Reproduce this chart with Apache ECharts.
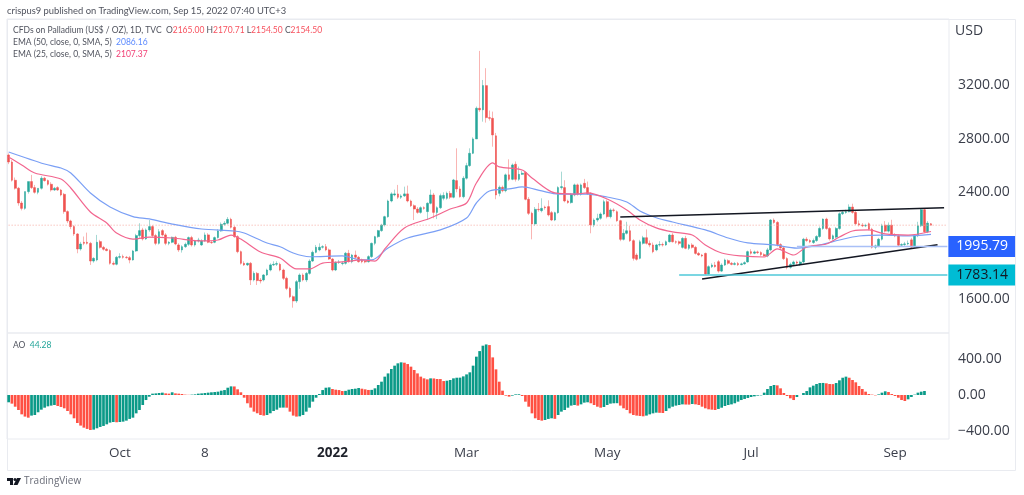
<!DOCTYPE html>
<html>
<head>
<meta charset="utf-8">
<script src="https://cdn.jsdelivr.net/npm/echarts@6/dist/echarts.min.js"></script>
<style>
html, body { margin: 0; padding: 0; background: #fff; }
#chart { width: 1024px; height: 495px; }
</style>
</head>
<body>
<div id="chart"></div>
<script>
// tick labels of the time axis and the bar they sit under
const tickLabels = ['Oct', '8', '2022', 'Mar', 'May', 'Jul', 'Sep'];
const tickBars = [34, 60, 99, 140, 183, 227, 271];
const barSlots = 288; // the last few slots stay empty, as on the original
const priceTicks = [1600, 2400, 2800, 3200];
const aoTicks = [-400, 0, 400];

// daily candles
const opens = [
  2678,2626,2490,2430,2320,2280,2405,2480,2435,2400,
  2430,2505,2487,2460,2417,2435,2417,2385,2256,2186,
  2144,2089,1977,2027,2027,2019,1887,1895,2032,1989,
  1975,1965,1870,1863,1915,1920,1915,1912,1895,1962,
  2077,2119,2052,2119,2144,2077,2019,2114,2082,2019,
  2027,2064,2007,1970,1994,2012,2062,2007,2037,2007,
  2037,2082,2027,2027,2062,2111,2161,2169,2198,2139,
  2069,1957,1870,1858,1870,1746,1795,1745,1746,1783,
  1820,1858,1863,1863,1820,1758,1683,1621,1589,1733,
  1783,1746,1795,1887,1952,1970,1990,1994,1970,1902,
  1820,1877,1868,1870,1945,1882,1932,1915,1895,1885,
  1882,1920,2019,2069,2114,2156,2218,2335,2380,2388,
  2363,2373,2388,2335,2300,2275,2250,2285,2256,2318,
  2380,2250,2285,2355,2355,2392,2363,2487,2425,2367,
  2505,2599,2691,2798,3027,3015,3196,2957,2952,2821,
  2392,2437,2412,2530,2497,2609,2497,2534,2549,2348,
  2243,2164,2273,2263,2290,2293,2248,2193,2248,2435,
  2435,2335,2323,2380,2455,2385,2467,2435,2392,2156,
  2193,2206,2238,2330,2218,2268,2255,2188,2049,2094,
  2113,2039,1932,1907,2019,2061,2019,2007,1970,2007,
  2010,2007,2031,2081,2031,2031,1989,2056,1982,2007,
  1989,1944,1932,1944,1790,1845,1857,1882,1812,1857,
  1890,1870,1862,1868,1860,1866,1880,1957,1945,1955,
  1950,1935,1925,1970,2193,2175,2010,1985,1905,1840,
  1862,1880,1862,1880,2050,2040,2025,2040,2070,2130,
  2200,2130,2052,2065,2130,2240,2250,2255,2290,2250,
  2165,2155,2150,2165,2125,1990,2000,2050,2155,2110,
  2155,2085,2075,2005,2010,2015,2045,1990,2075,2150,
  2270,2105,2165
];
const closes = [
  2626,2490,2430,2320,2280,2405,2480,2435,2400,2430,
  2505,2487,2460,2417,2430,2417,2380,2256,2186,2144,
  2089,1977,2014,2019,2019,1887,1907,2027,1989,1975,
  1965,1870,1863,1915,1920,1915,1912,1895,1962,2077,
  2114,2052,2119,2144,2077,2019,2106,2082,2019,2027,
  2064,2014,1970,1994,2012,2062,2007,2037,2044,2037,
  2082,2027,2024,2062,2111,2161,2169,2198,2139,2069,
  1957,1870,1858,1870,1746,1795,1741,1738,1783,1820,
  1858,1863,1868,1820,1758,1683,1621,1589,1733,1783,
  1746,1795,1887,1952,1990,1990,1994,1970,1902,1820,
  1877,1880,1872,1945,1882,1932,1915,1882,1882,1880,
  1920,2019,2069,2114,2156,2218,2335,2388,2388,2363,
  2373,2388,2335,2300,2275,2250,2285,2280,2318,2380,
  2250,2285,2375,2377,2392,2363,2492,2425,2367,2505,
  2599,2691,2798,3027,3015,3196,2957,2952,2828,2380,
  2437,2412,2530,2497,2604,2497,2534,2542,2348,2243,
  2164,2273,2270,2280,2285,2231,2193,2248,2435,2442,
  2335,2323,2385,2455,2385,2455,2435,2387,2156,2193,
  2206,2238,2330,2218,2268,2265,2188,2049,2094,2113,
  2039,1907,1900,2031,2061,2019,2007,1957,2007,2010,
  2007,2031,2081,2031,2028,2019,2056,1982,2007,1989,
  1944,1932,1925,1790,1845,1857,1845,1812,1857,1895,
  1870,1862,1868,1860,1866,1875,1957,1945,1955,1950,
  1935,1925,1970,2193,2175,2010,1985,1905,1840,1862,
  1880,1872,1880,2050,2040,2030,2040,2070,2130,2200,
  2130,2052,2075,2130,2240,2250,2255,2290,2250,2165,
  2155,2150,2152,2125,1990,2000,2050,2150,2110,2155,
  2085,2075,2005,2010,2015,2020,1990,2075,2150,2270,
  2105,2170,2154.5
];
const lows = [
  2610,2480,2420,2300,2265,2270,2390,2425,2390,2385,
  2420,2480,2450,2405,2410,2410,2370,2240,2170,2125,
  2075,1945,1965,2005,2010,1858,1875,1885,1980,1965,
  1960,1860,1855,1855,1905,1905,1905,1870,1890,1955,
  2060,2040,2045,2105,2065,2005,2010,2070,2005,2005,
  2020,2005,1955,1950,1985,2000,1995,1995,2025,2000,
  2030,2020,2015,2020,2055,2105,2150,2160,2130,2060,
  1945,1860,1850,1850,1708,1735,1708,1720,1735,1775,
  1810,1850,1850,1810,1745,1670,1610,1539,1575,1680,
  1735,1730,1785,1880,1945,1960,1980,1960,1895,1810,
  1812,1865,1855,1860,1875,1870,1905,1875,1870,1870,
  1875,1910,2005,2060,2105,2145,2210,2325,2370,2350,
  2350,2365,2325,2290,2193,2240,2240,2270,2193,2310,
  2206,2200,2275,2340,2345,2350,2355,2400,2360,2355,
  2495,2590,2685,2878,3000,2927,2920,2935,2740,2348,
  2370,2400,2400,2485,2490,2480,2485,2530,2340,2230,
  2049,2150,2255,2250,2270,2220,2185,2185,2240,2420,
  2325,2315,2315,2370,2375,2375,2425,2380,2094,2140,
  2180,2195,2230,2205,2205,2250,2180,2035,2040,2085,
  2030,1890,1890,1900,2010,2010,1990,1945,1960,1995,
  1995,2000,2025,2025,2015,2005,1980,1975,1970,1980,
  1935,1925,1915,1785,1785,1835,1838,1800,1805,1850,
  1860,1855,1855,1850,1855,1860,1875,1935,1938,1940,
  1925,1920,1915,1960,2165,1995,1975,1895,1825,1830,
  1850,1855,1850,1870,2030,2020,2015,2030,2060,2120,
  2120,2040,2040,2055,2120,2230,2240,2250,2240,2155,
  2145,2140,2140,2115,1980,1975,1990,2040,2100,2100,
  2075,2065,1995,1995,2000,2005,1980,1985,2065,2140,
  2095,2095,2154.5
];
const highs = [
  2690,2640,2510,2440,2335,2300,2420,2530,2455,2415,
  2520,2515,2495,2475,2440,2445,2425,2395,2265,2195,
  2155,2095,2030,2070,2099,2030,1915,2082,2045,2000,
  1985,1975,1885,1925,1945,1935,1925,1925,1970,2090,
  2169,2135,2130,2193,2155,2090,2125,2125,2095,2035,
  2070,2075,2020,2005,2025,2070,2075,2045,2060,2050,
  2100,2095,2040,2070,2125,2175,2185,2215,2210,2150,
  2080,1965,1885,1875,1880,1810,1805,1760,1790,1830,
  1870,1885,1885,1875,1830,1770,1695,1630,1745,1795,
  1795,1805,1900,1965,2007,2019,2005,2014,1980,1910,
  1885,1895,1885,1955,1970,1940,1965,1925,1905,1895,
  1930,2025,2075,2120,2165,2225,2345,2400,2420,2455,
  2385,2442,2450,2345,2310,2290,2295,2295,2325,2420,
  2395,2295,2390,2400,2405,2410,2500,2728,2445,2520,
  2620,2728,2810,3040,3455,3238,3326,3010,3002,2843,
  2450,2450,2540,2646,2615,2630,2592,2560,2555,2365,
  2255,2290,2320,2355,2300,2340,2260,2255,2445,2554,
  2490,2345,2395,2465,2465,2465,2500,2480,2400,2205,
  2240,2250,2345,2345,2280,2280,2265,2195,2125,2180,
  2150,2050,1945,2045,2075,2123,2040,2025,2015,2035,
  2025,2040,2090,2095,2040,2040,2065,2075,2015,2020,
  2000,1955,1940,1950,1855,1870,1880,1895,1870,1905,
  1900,1880,1880,1880,1875,1885,1965,1975,1965,1965,
  1960,1945,1985,2200,2205,2185,2020,1995,1915,1875,
  1890,1890,1890,2060,2065,2050,2055,2080,2145,2205,
  2210,2140,2085,2140,2250,2265,2270,2310,2315,2260,
  2190,2170,2165,2175,2135,2010,2060,2165,2185,2175,
  2195,2095,2085,2020,2030,2040,2060,2085,2180,2280,
  2275,2185,2170.71
];

// moving averages, read at their bends as [bar, price]
const ema50 = [
  [0,2701],[11,2611],[16,2581],[19,2544],[25,2395],[31,2290],[38,2218],[43,2201],[50,2163],[59,2126],
  [69,2111],[72,2096],[79,2022],[83,1994],[87,1947],[92,1919],[102,1925],[108,1895],[111,1895],[116,1984],
  [122,2059],[132,2119],[140,2208],[143,2320],[147,2410],[153,2425],[157,2440],[163,2410],[168,2387],[177,2387],
  [183,2365],[189,2328],[193,2260],[198,2210],[203,2178],[213,2119],[220,2059],[226,2022],[234,2007],[241,1984],
  [248,2007],[254,2044],[260,2074],[267,2081],[274,2074],[282,2086.16]
];
const ema25 = [
  [0,2663],[4,2604],[8,2544],[16,2499],[19,2432],[25,2253],[30,2171],[33,2096],[38,2051],[43,2066],
  [50,2059],[59,2037],[64,2044],[68,2081],[71,2051],[77,1954],[83,1910],[88,1828],[92,1828],[96,1872],
  [102,1880],[108,1895],[112,1887],[115,1977],[121,2134],[129,2208],[135,2275],[140,2320],[143,2469],[148,2619],
  [150,2589],[157,2566],[160,2507],[167,2395],[173,2387],[177,2395],[183,2350],[189,2268],[193,2193],[198,2134],
  [203,2104],[209,2081],[213,2007],[218,1947],[224,1925],[231,1917],[235,1977],[240,1932],[244,1992],[250,2014],
  [254,2066],[258,2111],[263,2119],[268,2089],[275,2081],[282,2107.37]
];

// awesome oscillator
const aoValues = [
  -81,-96,-130,-167,-215,-240,-252,-229,-222,-192,
  -163,-141,-126,-118,-111,-122,-133,-148,-178,-215,
  -259,-311,-340,-363,-377,-389,-385,-370,-355,-344,
  -326,-307,-300,-303,-300,-296,-285,-266,-252,-204,
  -167,-111,-56,-19,15,18,22,26,18,15,
  30,18,15,11,4,2,4,7,15,18,
  22,26,30,33,37,48,55,81,96,95,
  63,30,-30,-92,-140,-185,-203,-222,-229,-222,
  -203,-178,-163,-141,-140,-141,-185,-229,-240,-237,
  -222,-185,-141,-74,-30,11,55,81,85,67,
  59,55,44,46,59,67,70,78,70,63,
  56,57,74,111,148,204,240,289,326,352,
  363,359,344,315,278,240,204,185,174,185,
  184,178,177,155,159,167,185,192,193,207,
  229,252,326,426,488,548,562,555,418,285,
  148,48,-7,-18,-7,7,8,-11,-74,-130,
  -204,-259,-278,-285,-278,-266,-259,-265,-222,-185,
  -167,-141,-118,-111,-118,-104,-85,-81,-92,-111,
  -130,-141,-133,-111,-96,-92,-91,-118,-148,-167,
  -204,-222,-229,-233,-237,-229,-215,-204,-196,-198,
  -200,-178,-148,-130,-118,-111,-104,-106,-107,-100,
  -104,-111,-130,-148,-159,-163,-167,-155,-141,-122,
  -111,-104,-92,-74,-56,-44,-33,-22,-15,-7,
  -4,26,67,100,111,107,74,22,-11,-37,
  -56,-22,0,22,44,85,104,122,133,134,
  130,122,121,133,163,192,204,192,167,141,
  100,67,37,11,4,-4,7,26,41,33,
  11,-11,-30,-56,-67,-48,-22,4,26,37,
  44.28
];

// drawn lines and price tags
const upperTrend = [[187,2216],[286,2285]];
const lowerTrend = [[212,1753],[284,2009]];
const lastPriceLine = [[0,2154.5],[287,2154.5]];
const blueLevel = [[241,1995.79],[287,1995.79]];
const tealLevel = [[205,1783.14],[287,1783.14]];

const UP = '#26a69a', DOWN = '#ef5350';
const FONT = '"Open Sans", sans-serif';
const SMALL_FONT = 'Lato, sans-serif';
const SMALL_SIZE = 8.5;
const TEXT = '#3a3e4a';
const FRAME = '#e9ebf0';

const categories = [];
for (let i = 0; i < barSlots; i++) categories.push(String(i));

const candles = opens.map((o, i) => [o, closes[i], lows[i], highs[i]]);
// second pass with no wick, so the wick can stay paler than the body
const bodies = opens.map((o, i) => [o, closes[i], Math.min(o, closes[i]), Math.max(o, closes[i])]);

function plainLine(data, color, width, type) {
  return {
    type: 'line', data: data, showSymbol: false, silent: true,
    lineStyle: { color: color, width: width, type: type || 'solid' },
    z: 5
  };
}

function emaLine(data, color) {
  const s = plainLine(data, color, 1.2);
  s.smooth = 0.3;
  return s;
}

function tagLine(data, color, lineColor, textColor) {
  const s = plainLine(data, lineColor, 1.5);
  s.endLabel = {
    show: true, distance: 1,
    formatter: p => p.value[1].toFixed(2),
    color: textColor, backgroundColor: color,
    fontFamily: FONT, fontSize: 14, padding: [4, 7, 3, 8]
  };
  return s;
}

function legendText(x, y, text) {
  return { type: 'text', left: x, top: y, silent: true,
    style: { text: text, rich: legendRich, fontFamily: SMALL_FONT, fontSize: SMALL_SIZE, fill: '#50535e' } };
}

function legendStyle(color) {
  return { fontFamily: SMALL_FONT, fontSize: SMALL_SIZE, fill: color, color: color };
}

const legendRich = {
  g: legendStyle('#50535e'),
  r: legendStyle('#f7525f'),
  b: legendStyle('#5d8bff'),
  p: legendStyle('#f23f75'),
  t: legendStyle('#26a69a')
};

const chart = echarts.init(document.getElementById('chart'), null, { renderer: 'canvas' });

chart.setOption({
  animation: false,
  backgroundColor: '#fff',
  grid: [
    { left: 7, top: 19, width: 942, height: 314, show: true, borderColor: FRAME, borderWidth: 1 },
    { left: 7, top: 333, width: 942, height: 106, show: true, borderColor: FRAME, borderWidth: 1 }
  ],
  xAxis: [
    { type: 'category', gridIndex: 0, data: categories, axisLine: { show: false }, axisTick: { show: false },
      axisLabel: { show: false }, splitLine: { show: false } },
    { type: 'category', gridIndex: 1, data: categories, axisLine: { show: false, onZero: false }, axisTick: { show: false },
      splitLine: { show: false },
      axisLabel: {
        interval: (i) => tickBars.indexOf(i) >= 0,
        formatter: (v) => {
          const label = tickLabels[tickBars.indexOf(Number(v))];
          return label === '2022' ? '{y|2022}' : label;
        },
        rich: { y: { fontFamily: FONT, fontSize: 13.5, fontWeight: 'bold', color: '#1f222b' } },
        color: TEXT, fontFamily: FONT, fontSize: 13.5, margin: 7, hideOverlap: false
      } }
  ],
  yAxis: [
    { type: 'value', gridIndex: 0, position: 'right', min: 1350, max: 3693,
      axisLine: { show: false }, axisTick: { show: false }, splitLine: { show: false },
      axisLabel: { customValues: priceTicks, formatter: v => v.toFixed(2), color: TEXT, fontFamily: FONT, fontSize: 14, margin: 9 } },
    { type: 'value', gridIndex: 1, position: 'right', min: -489, max: 689,
      axisLine: { show: false }, axisTick: { show: false }, splitLine: { show: false },
      axisLabel: { customValues: aoTicks, formatter: v => v.toFixed(2).replace('-', '\u2212'), color: TEXT, fontFamily: FONT, fontSize: 14, margin: 9 } }
  ],
  series: [
    { type: 'candlestick', data: candles, barWidth: 1, silent: true,
      itemStyle: { color: '#a6d9d4', color0: '#f9b5b3', borderColor: '#a6d9d4', borderColor0: '#f9b5b3', borderWidth: 1 } },
    { type: 'candlestick', data: bodies, barWidth: 2.2, silent: true,
      itemStyle: { color: UP, color0: DOWN, borderColor: UP, borderColor0: DOWN, borderWidth: 0.5 } },
    plainLine(lastPriceLine, '#f5a9a0', 1, [1, 2]),
    emaLine(ema50, '#7a9ff5'),
    emaLine(ema25, '#f2668f'),
    plainLine(upperTrend, '#131722', 1.5),
    plainLine(lowerTrend, '#131722', 1.5),
    tagLine(blueLevel, '#2962ff', '#a9c0f7', '#fff'),
    tagLine(tealLevel, '#00bcd4', '#4fc9d9', '#131722'),
    { type: 'bar', xAxisIndex: 1, yAxisIndex: 1, data: aoValues, barWidth: 2.7, silent: true,
      itemStyle: { color: p => (p.dataIndex === 0 || p.value >= aoValues[p.dataIndex - 1]) ? '#0b9a88' : '#ff5043' } }
  ],
  graphic: [
    { type: 'rect', shape: { x: 7.5, y: 19.5, width: 1008, height: 451 }, silent: true,
      style: { fill: 'none', stroke: FRAME, lineWidth: 1 } },
    { type: 'text', left: 7, top: 6, silent: true,
      style: { text: 'crispus9 published on TradingView.com, Sep 15, 2022 07:40 UTC+3', fontFamily: SMALL_FONT, fontSize: 9.4, fill: '#50535e' } },
    legendText(13, 25.5, '{g|CFDs on Palladium (US$ / OZ), 1D, TVC  O}{r|2165.00}{g| H}{r|2170.71}{g| L}{r|2154.50}{g| C}{r|2154.50}'),
    legendText(13, 37.5, '{g|EMA (50, close, 0, SMA, 5)  }{b|2086.16}'),
    legendText(13, 49.5, '{g|EMA (25, close, 0, SMA, 5)  }{p|2107.37}'),
    legendText(13, 340.5, '{g|AO  }{t|44.28}'),
    { type: 'text', left: 955, top: 24, silent: true,
      style: { text: 'USD', fontFamily: FONT, fontSize: 14, fill: TEXT } },
    // TradingView mark and wordmark
    { type: 'polygon', silent: true, shape: { points: [[7,478],[13,478],[13,485],[10,485],[10,481],[7,481]] }, style: { fill: '#131722' } },
    { type: 'circle', silent: true, shape: { cx: 15, cy: 479.5, r: 1.5 }, style: { fill: '#131722' } },
    { type: 'polygon', silent: true, shape: { points: [[17,478],[21,478],[17.5,485],[13.5,485]] }, style: { fill: '#131722' } },
    { type: 'text', left: 24, top: 476, silent: true,
      style: { text: 'TradingView', fontFamily: FONT, fontSize: 10, fill: '#6a6d78' } }
  ]
});
</script>
</body>
</html>
